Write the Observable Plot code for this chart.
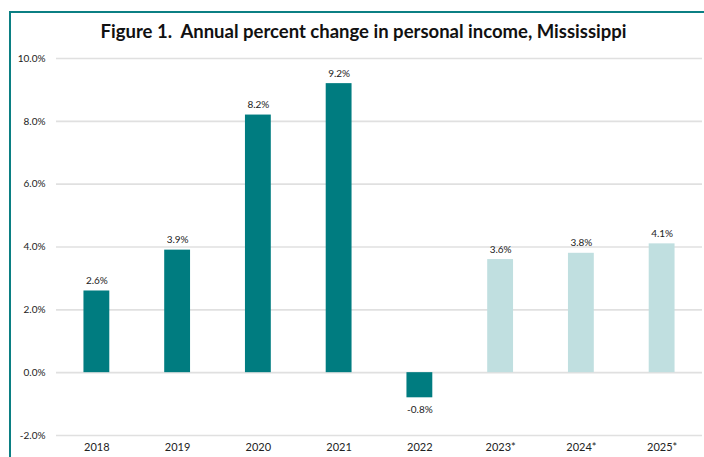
<!DOCTYPE html>
<html><head><meta charset="utf-8">
<script src="https://cdn.jsdelivr.net/npm/d3@7"></script>
<script src="https://cdn.jsdelivr.net/npm/@observablehq/plot@0.6"></script>
<style>
html,body{margin:0;padding:0;background:#fff;width:704px;height:457px;overflow:hidden;font-family:Lato,"Open Sans",sans-serif;}
#frame{position:absolute;left:9px;top:11px;width:695px;height:446px;border-left:2px solid #0b7f83;border-top:2px solid #0b7f83;}
#title{position:absolute;left:0;top:7px;width:705px;text-align:center;font-weight:bold;font-size:18.5px;color:#111;}
#chart{position:absolute;left:0;top:32px;}
</style></head>
<body>
<div id="frame"><div id="title">Figure 1.&nbsp; Annual percent change in personal income, Mississippi</div><div id="chart"></div></div>
<script>
const years = ["2018","2019","2020","2021","2022","2023*","2024*","2025*"];
const values = [2.6, 3.9, 8.2, 9.2, -0.8, 3.6, 3.8, 4.1];
const forecast = [false,false,false,false,false,true,true,true];
const yTicks = [-2,0,2,4,6,8,10];

const data = years.map((y,i)=>({year:y, value:values[i], forecast:forecast[i]}));
const fmt = v => v.toFixed(1) + "%";

const plot = Plot.plot({
  width: 693, height: 412,
  marginLeft: 45, marginRight: 2, marginTop: 13, marginBottom: 22,
  style: {fontFamily: "Lato, 'Open Sans', sans-serif", fontSize: "10px", color: "#222", background: "transparent"},
  x: {domain: years, paddingInner: 0.68, paddingOuter: 0.34, round: false, label: null, tickSize: 0, tickPadding: 8},
  y: {domain: [-2, 10], ticks: yTicks, tickFormat: fmt, label: null, tickSize: 0, tickPadding: 11},
  color: {domain: [false, true], range: ["#007c80", "#c0dfe0"]},
  marks: [
    Plot.ruleY(yTicks, {stroke: "#e0e0e0", strokeWidth: 1.6}),
    Plot.barY(data, {x: "year", y: "value", fill: "forecast"}),
    Plot.text(data, {x: "year", y: "value", text: d => fmt(d.value),
      lineAnchor: "bottom", fontSize: 10, fill: "#222",
      filter: d => d.value >= 0, dy: -7}),
    Plot.text(data, {x: "year", y: "value", text: d => fmt(d.value),
      lineAnchor: "top", fontSize: 10, fill: "#222",
      filter: d => d.value < 0, dy: 8})
  ]
});
plot.querySelectorAll('[aria-label="x-axis tick label"]').forEach(g=>g.setAttribute("font-size","11"));
document.getElementById("chart").appendChild(plot);
</script>
</body></html>
